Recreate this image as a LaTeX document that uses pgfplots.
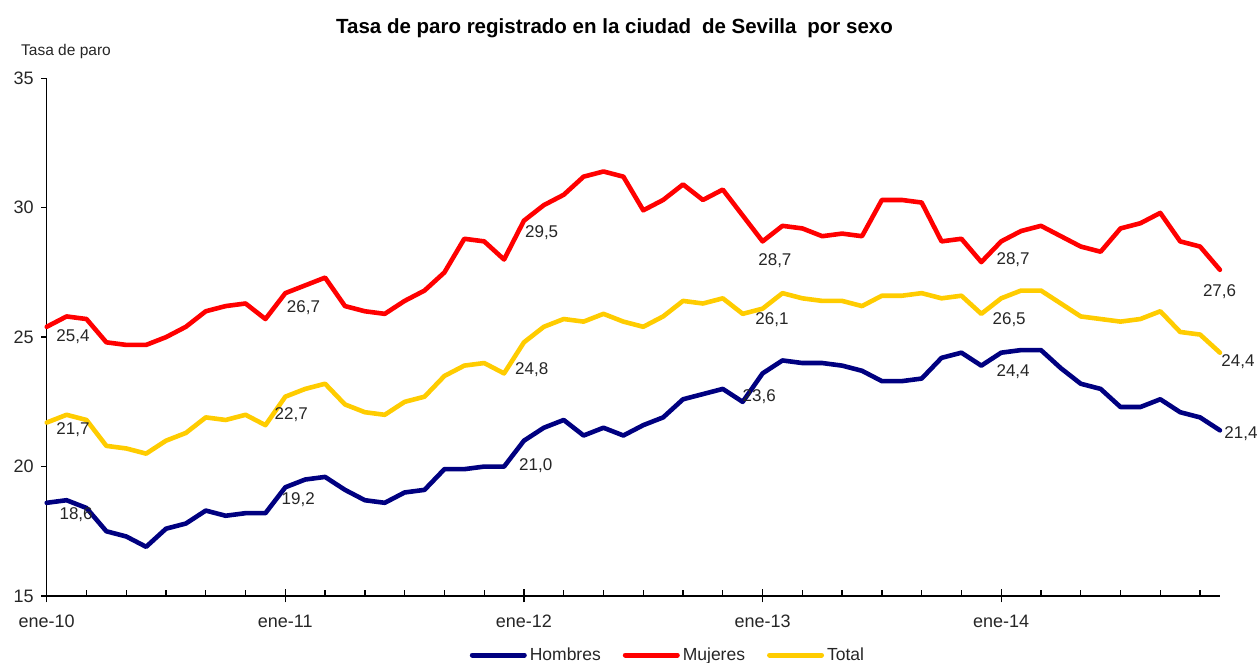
\documentclass[border=0pt]{standalone}
\usepackage{fontspec}
\setmainfont{Liberation Sans}
\usepackage{pgfplots}
\pgfplotsset{compat=1.18}
\usepackage{pgfplotstable}
\definecolor{hom}{RGB}{0,0,128}
\definecolor{muj}{RGB}{255,0,0}
\definecolor{tot}{RGB}{255,204,0}
\definecolor{lbl}{RGB}{38,38,38}

\pgfplotstableread{
i h m t
0 18.6 25.4 21.7
1 18.7 25.8 22.0
2 18.4 25.7 21.8
3 17.5 24.8 20.8
4 17.3 24.7 20.7
5 16.9 24.7 20.5
6 17.6 25.0 21.0
7 17.8 25.4 21.3
8 18.3 26.0 21.9
9 18.1 26.2 21.8
10 18.2 26.3 22.0
11 18.2 25.7 21.6
12 19.2 26.7 22.7
13 19.5 27.0 23.0
14 19.6 27.3 23.2
15 19.1 26.2 22.4
16 18.7 26.0 22.1
17 18.6 25.9 22.0
18 19.0 26.4 22.5
19 19.1 26.8 22.7
20 19.9 27.5 23.5
21 19.9 28.8 23.9
22 20.0 28.7 24.0
23 20.0 28.0 23.6
24 21.0 29.5 24.8
25 21.5 30.1 25.4
26 21.8 30.5 25.7
27 21.2 31.2 25.6
28 21.5 31.4 25.9
29 21.2 31.2 25.6
30 21.6 29.9 25.4
31 21.9 30.3 25.8
32 22.6 30.9 26.4
33 22.8 30.3 26.3
34 23.0 30.7 26.5
35 22.5 29.7 25.9
36 23.6 28.7 26.1
37 24.1 29.3 26.7
38 24.0 29.2 26.5
39 24.0 28.9 26.4
40 23.9 29.0 26.4
41 23.7 28.9 26.2
42 23.3 30.3 26.6
43 23.3 30.3 26.6
44 23.4 30.2 26.7
45 24.2 28.7 26.5
46 24.4 28.8 26.6
47 23.9 27.9 25.9
48 24.4 28.7 26.5
49 24.5 29.1 26.8
50 24.5 29.3 26.8
51 23.8 28.9 26.3
52 23.2 28.5 25.8
53 23.0 28.3 25.7
54 22.3 29.2 25.6
55 22.3 29.4 25.7
56 22.6 29.8 26.0
57 22.1 28.7 25.2
58 21.9 28.5 25.1
59 21.4 27.6 24.4
}\data

\begin{document}
\begin{tikzpicture}
\path[use as bounding box] (-46.7pt,-67pt) rectangle (1211.3pt,596pt);
\begin{axis}[
  at={(0pt,0pt)}, anchor=south west,
  scale only axis, width=1173.3pt, height=517.7pt,
  xmin=0, xmax=59, ymin=15, ymax=35,
  clip=false,
  axis x line*=bottom, axis y line*=left,
  axis line style={line width=1.5pt, black},
  xtick={0,2,...,58},
  xticklabels={},
  extra x ticks={0,12,24,36,48},
  extra x tick labels={ene-10,ene-11,ene-12,ene-13,ene-14},
  extra x tick style={xtick align=center, major tick length=13pt},
  ytick={15,20,...,35},
  xtick align=inside, ytick align=outside,
  major tick length=5.5pt,
  tick style={black, line width=1.3pt},
  /pgf/number format/assume math mode=true,
  yticklabel style={font=\fontsize{18}{20}\selectfont, text=lbl, xshift=-4pt},
  xticklabel style={font=\fontsize{18}{20}\selectfont, text=lbl, yshift=-9pt},
  legend style={at={(0.5295,-0.114)}, anchor=center, draw=none, fill=none,
    legend columns=3, font=\fontsize{17.5}{20}\selectfont, text=lbl,
    /tikz/every odd column/.append style={column sep=1pt},
    /tikz/every even column/.append style={column sep=20pt}},
  legend image code/.code={\draw[#1, line width=5pt] (0pt,0pt) -- (52pt,0pt);},
  every axis plot/.append style={line width=4.6pt, line join=round, line cap=round},
]
\addplot[hom, mark=none] table[x=i, y=h] {\data};
\addlegendentry{Hombres}
\addplot[muj, mark=none] table[x=i, y=m] {\data};
\addlegendentry{Mujeres}
\addplot[tot, mark=none] table[x=i, y=t] {\data};
\addlegendentry{Total}

\begin{scope}[every node/.style={font=\fontsize{17}{20}\selectfont, text=lbl, inner sep=0pt}]
\node at (axis cs:1.32,25.01) {25,4};
\node at (axis cs:12.91,26.13) {26,7};
\node at (axis cs:24.89,29.04) {29,5};
\node at (axis cs:36.62,27.96) {28,7};
\node at (axis cs:48.6,27.99) {28,7};
\node at (axis cs:58.98,26.76) {27,6};
\node at (axis cs:1.32,21.42) {21,7};
\node at (axis cs:12.3,22.0) {22,7};
\node at (axis cs:24.39,23.74) {24,8};
\node at (axis cs:36.47,25.67) {26,1};
\node at (axis cs:48.4,25.67) {26,5};
\node at (axis cs:59.91,24.06) {24,4};
\node at (axis cs:1.48,18.13) {18,6};
\node at (axis cs:12.65,18.71) {19,2};
\node at (axis cs:24.59,20.04) {21,0};
\node at (axis cs:35.83,22.70) {23,6};
\node at (axis cs:48.6,23.67) {24,4};
\node at (axis cs:60.06,21.26) {21,4};
\end{scope}
\end{axis}
\node[anchor=base, font=\bfseries\fontsize{20.5}{24}\selectfont] at (567.8pt,562pt)
  {Tasa de paro registrado en la ciudad\hspace{0.25em} de Sevilla\hspace{0.25em} por sexo};
\node[anchor=base west, inner sep=0pt, font=\fontsize{15.5}{18}\selectfont, text=lbl] at (-25.7pt,540pt) {Tasa de paro};
\end{tikzpicture}
\end{document}
